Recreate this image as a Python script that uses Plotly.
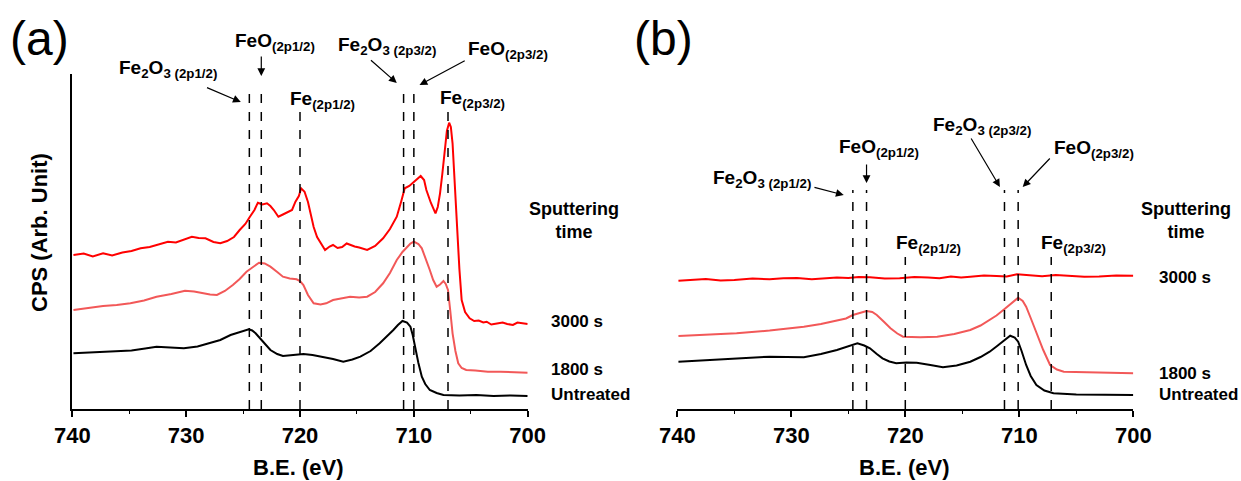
import plotly.graph_objects as go

# ---------------- data (binding energy in eV, intensity in arbitrary units) ----------------
a_3000_be = [739.9, 739.0, 738.2, 737.3, 736.5, 735.6, 734.8, 734.0, 733.2, 732.3, 731.6, 730.9, 730.1,
             729.5, 728.9, 728.3, 727.6, 727.0, 726.4, 725.8, 725.3, 724.8, 724.4, 724.0, 723.7, 723.3,
             722.9, 722.6, 722.3, 721.9, 721.5, 721.0, 720.7, 720.4, 720.1, 719.9, 719.6, 719.3, 719.1,
             718.8, 718.5, 718.1, 717.8, 717.4, 717.1, 716.7, 716.3, 715.9, 715.6, 715.2, 714.8, 714.4,
             714.1, 713.4, 712.7, 712.1, 711.5, 711.1, 710.8, 710.4, 710.0, 709.7, 709.4, 709.1, 708.9,
             708.5, 708.1, 707.9, 707.7, 707.5, 707.3, 707.1, 706.9, 706.75, 706.6, 706.4, 706.2, 706.0,
             705.8, 705.5, 705.1, 704.7, 704.3, 703.9, 703.6, 703.2, 702.7, 702.2, 701.8, 701.3, 700.9,
             700.4, 700.0]
a_3000_y = [154, 155.5, 152.5, 155.7, 153.5, 156.5, 158, 160.7, 162, 165, 167.3, 166.5, 170,
            172.3, 171, 170.7, 167, 165.7, 168, 172, 179, 185, 192.3, 199, 206.3, 204.5,
            205.7, 203, 199, 192.3, 194.5, 197.3, 199, 207.3, 213, 220.7, 217.3, 207, 195.7,
            182, 172, 165, 159, 162.5, 164, 161, 162, 165.5, 164, 162.5, 161.5, 160,
            159, 163, 170.7, 180, 192.3, 208, 220.7, 223, 227.3, 230, 233, 229, 219,
            206, 195.7, 202, 215.7, 235, 259, 278, 286.3, 282, 265.7, 222, 175.7, 140,
            109, 97, 90.7, 88, 88.5, 86.5, 87.3, 84.5, 85.5, 86.5, 85, 84, 86.5,
            85.5, 85]

a_1800_be = [739.9, 738.6, 737.3, 736.1, 734.9, 733.7, 732.6, 731.3, 730.1, 729.3, 728.5, 727.9, 727.3,
             726.6, 725.9, 725.3, 724.7, 724.1, 723.6, 723.1, 722.6, 722.0, 721.5, 720.9, 720.3, 720.0,
             719.7, 719.3, 718.8, 718.2, 717.7, 717.1, 716.3, 715.6, 714.8, 714.1, 713.4, 712.7, 712.1,
             711.5, 711.0, 710.6, 710.3, 710.0, 709.6, 709.3, 709.0, 708.6, 708.3, 708.0, 707.7, 707.4,
             707.2, 707.0, 706.8, 706.6, 706.35, 706.1, 705.8, 705.4, 704.6, 703.5, 702.4, 701.2, 700.0]
a_1800_y = [99, 101, 103, 104, 105.7, 108.5, 112.3, 115, 118.3, 117.5, 115.7, 114.5, 114,
            118, 124, 130, 137.3, 142.5, 146.3, 145.5, 142.3, 137, 132.3, 130.5, 129.7, 128,
            124, 114, 105.7, 104.5, 105.7, 109, 111, 112.3, 111.5, 112.3, 117, 125.7, 136,
            149, 157, 162.3, 165.5, 167.3, 165, 160.7, 152, 139, 129, 122.3, 124.5, 128,
            125, 119, 98, 75.7, 58, 45.7, 41, 39, 38.5, 37.3, 37.3, 36.8, 36.3]

a_untr_be = [739.9, 738.6, 737.3, 736.0, 734.8, 733.6, 732.6, 731.4, 730.2, 729.0, 727.9, 727.0, 726.1,
             725.3, 724.5, 724.2, 723.9, 723.3, 722.6, 722.0, 721.5, 720.6, 719.7, 718.9, 718.0, 717.1,
             716.2, 715.4, 714.7, 713.8, 713.0, 712.4, 711.8, 711.4, 711.0, 710.6, 710.3, 710.1, 709.9,
             709.6, 709.3, 709.0, 708.6, 708.0, 707.4, 706.0, 704.5, 703.0, 701.5, 700.0]
a_untr_y = [55.7, 56.5, 57.3, 58, 58.5, 60.5, 62.3, 61.5, 60.7, 62.5, 65.7, 69, 74,
            77, 79.7, 78.5, 75.7, 68, 59, 55, 53, 54, 55, 54, 52.3, 50,
            47.3, 49.5, 52.3, 58, 65.7, 72, 79, 84, 88, 86.5, 82.3, 74, 62.3,
            46, 32.3, 25, 19, 16, 14, 13.5, 14, 13, 13.5, 13]

b_3000_be = [739.9, 738.7, 737.5, 736.2, 735.0, 733.4, 731.9, 730.7, 729.5, 728.2, 727.0, 726.0, 725.0,
             724.1, 723.1, 721.8, 720.5, 719.2, 718.0, 717.0, 716.0, 715.1, 714.3, 713.1, 712.0, 711.1,
             710.2, 709.1, 708.0, 706.8, 705.6, 704.3, 703.0, 701.5, 700.0]
b_3000_y = [128.3, 129.5, 130, 128.5, 129, 130.5, 129.7, 130.8, 131, 129.8, 130.5, 131.5, 131,
            132, 131.7, 130.5, 130.8, 132, 131.5, 130.8, 132.5, 131.5, 132.3, 133.5, 133, 132.5,
            134.7, 133.5, 132.8, 134, 133, 132.3, 132.5, 133.6, 133.3]

b_1800_be = [739.9, 737.3, 734.8, 731.9, 728.9, 727.4, 726.0, 725.2, 724.6, 724.0, 723.4, 722.9, 722.5,
             721.9, 721.3, 720.7, 720.2, 718.7, 717.2, 715.7, 714.3, 713.4, 712.6, 712.0, 711.4, 710.7,
             710.1, 709.7, 709.4, 709.0, 708.5, 707.9, 707.3, 706.7, 706.1, 704.0, 702.0, 700.0]
b_1800_y = [73, 74.5, 75.7, 78.5, 82.3, 85, 88.3, 90.5, 94, 96, 98, 97, 94,
            87.5, 80.7, 75.5, 72.3, 71.8, 72.3, 75, 79, 83.5, 89, 93.5, 99, 106,
            111.3, 108, 102.3, 91, 75.7, 59, 44, 39.5, 37.3, 36.5, 36.2, 35.7]

b_untr_be = [739.9, 737.3, 734.8, 731.9, 728.9, 727.4, 726.0, 725.0, 724.2, 723.6, 723.1, 722.5, 722.0,
             721.4, 720.8, 719.9, 719.0, 717.8, 716.7, 715.5, 714.3, 713.4, 712.6, 712.0, 711.4, 710.8,
             710.4, 710.1, 709.8, 709.4, 709.0, 708.5, 707.8, 707.0, 705.0, 702.5, 700.0]
b_untr_y = [47.3, 49, 50.7, 52.3, 51.7, 55, 59, 62.5, 65.7, 63.5, 60.7, 55, 50.7,
            47.5, 45.7, 46.5, 46.3, 44, 41.7, 43.5, 47.3, 52, 57.3, 62.5, 68.3, 73.3,
            71.5, 67.3, 58, 44, 33, 24, 18.5, 15.7, 14.5, 14.2, 14]

# reference peak positions (eV)
a_peaks = [724.45, 723.4, 720.0, 710.9, 710.0, 707.0]
b_peaks = [724.6, 723.4, 720.0, 711.3, 710.1, 707.2]
tick_vals = [740, 730, 720, 710, 700]

RED = "#ff0000"
LRED = "#f25858"
BLK = "#000000"
FONT = "Liberation Sans"
W, H = 1241, 481


def px(x):
    return x / W


def py(y):
    return 1 - y / H


fig = go.Figure()
for xs, ys, c, ax in [
    (a_3000_be, a_3000_y, RED, "x"), (a_1800_be, a_1800_y, LRED, "x"), (a_untr_be, a_untr_y, BLK, "x"),
    (b_3000_be, b_3000_y, RED, "x2"), (b_1800_be, b_1800_y, LRED, "x2"), (b_untr_be, b_untr_y, BLK, "x2"),
]:
    fig.add_trace(go.Scatter(x=xs, y=ys, mode="lines", line=dict(color=c, width=2),
                             xaxis=ax, yaxis="y" if ax == "x" else "y2", showlegend=False,
                             hoverinfo="skip"))

shapes = []
a_tops = [324, 324, 300, 324, 324, 300]
b_tops = [219, 219, 152, 219, 219, 152]
for v, t in zip(a_peaks, a_tops):
    shapes.append(dict(type="line", xref="x", yref="y", x0=v, x1=v, y0=0, y1=t,
                       line=dict(color=BLK, width=1.5, dash="dash")))
for v, t in zip(b_peaks, b_tops):
    shapes.append(dict(type="line", xref="x2", yref="y2", x0=v, x1=v, y0=0, y1=t,
                       line=dict(color=BLK, width=1.5, dash="dash")))

ann = []


def text(x, y, s, size=19, weight=700, xanchor="center", angle=0):
    ann.append(dict(xref="paper", yref="paper", x=px(x), y=py(y), text=s, showarrow=False,
                    xanchor=xanchor, yanchor="middle", textangle=angle,
                    font=dict(family=FONT, size=size, color=BLK, weight=weight)))


def arrow(xr, yr, x, y, axx, ayy):
    ann.append(dict(xref=xr, yref=yr, axref=xr, ayref=yr, x=x, y=y, ax=axx, ay=ayy, text="",
                    showarrow=True, arrowhead=2, arrowsize=1.3, arrowwidth=1.2, arrowcolor=BLK))


# axis titles
text(39, 233, "CPS (Arb. Unit)", size=22, angle=-90)
text(298, 467, "B.E. (eV)", size=22)
text(904, 467, "B.E. (eV)", size=22)

# panel (a)
text(40, 38, "(a)", size=48, weight=400)
text(167.6, 69, "Fe<sub>2</sub>O<sub>3 (2p1/2)</sub>")
text(274.5, 42.5, "FeO<sub>(2p1/2)</sub>")
text(322, 100, "Fe<sub>(2p1/2)</sub>")
text(387, 46, "Fe<sub>2</sub>O<sub>3 (2p3/2)</sub>")
text(507.5, 50, "FeO<sub>(2p3/2)</sub>")
text(472, 99, "Fe<sub>(2p3/2)</sub>")
text(574, 220, "Sputtering<br>time", size=18)
text(549, 321, "3000 s", size=17, xanchor="left")
text(549, 369, "1800 s", size=17, xanchor="left")
text(549, 394, "Untreated", size=17, xanchor="left")
arrow("x", "y", 725.2, 307, 728.3, 322)
arrow("x", "y", 723.4, 333, 723.4, 354)
arrow("x", "y", 711.5, 326, 713.9, 350)
arrow("x", "y", 709.5, 324, 705.4, 349)

# panel (b)
text(663.5, 38, "(b)", size=48, weight=400)
text(761.5, 179, "Fe<sub>2</sub>O<sub>3 (2p1/2)</sub>")
text(878.5, 147.5, "FeO<sub>(2p1/2)</sub>")
text(982, 126, "Fe<sub>2</sub>O<sub>3 (2p3/2)</sub>")
text(1093.7, 149, "FeO<sub>(2p3/2)</sub>")
text(928.5, 244, "Fe<sub>(2p1/2)</sub>")
text(1073, 244, "Fe<sub>(2p3/2)</sub>")
text(1186, 220, "Sputtering<br>time", size=18)
text(1156.6, 277.5, "3000 s", size=17, xanchor="left")
text(1156.6, 373, "1800 s", size=17, xanchor="left")
text(1156.6, 394, "Untreated", size=17, xanchor="left")
arrow("x2", "y2", 725.4, 214, 728.1, 222)
arrow("x2", "y2", 723.4, 226, 723.4, 246)
arrow("x2", "y2", 711.7, 222, 714.3, 272)
arrow("x2", "y2", 709.7, 222, 707.2, 252)

xbase = dict(range=[740, 700], tickvals=tick_vals, ticks="outside", ticklen=6, tickwidth=1.5,
             tickcolor=BLK, showline=True, linecolor=BLK, linewidth=1.5, showgrid=False,
             zeroline=False, automargin=False,
             tickfont=dict(family=FONT, size=22, color=BLK, weight=700),
             minor=dict(dtick=5, ticks="outside", ticklen=3, tickwidth=1.2, tickcolor=BLK,
                        showgrid=False))
ydom = [py(409), py(74)]
fig.update_layout(
    width=W, height=H, margin=dict(l=0, r=0, t=0, b=0, autoexpand=False),
    paper_bgcolor="white", plot_bgcolor="white",
    xaxis=dict(xbase, domain=[px(72.3), px(527.7)], anchor="y"),
    xaxis2=dict(xbase, domain=[px(677.3), px(1133.3)], anchor="y2"),
    yaxis=dict(domain=ydom, range=[0, 335], anchor="x", showline=True, linecolor=BLK, linewidth=1.5,
               showticklabels=False, ticks="", showgrid=False, zeroline=False, automargin=False),
    yaxis2=dict(domain=ydom, range=[0, 335], anchor="x2", showline=False, showticklabels=False,
                ticks="", showgrid=False, zeroline=False, automargin=False),
    shapes=shapes, annotations=ann,
)
fig.write_html("out.html", config={"displayModeBar": False},
               post_script="document.body.style.margin='0';document.body.style.overflow='hidden';")
